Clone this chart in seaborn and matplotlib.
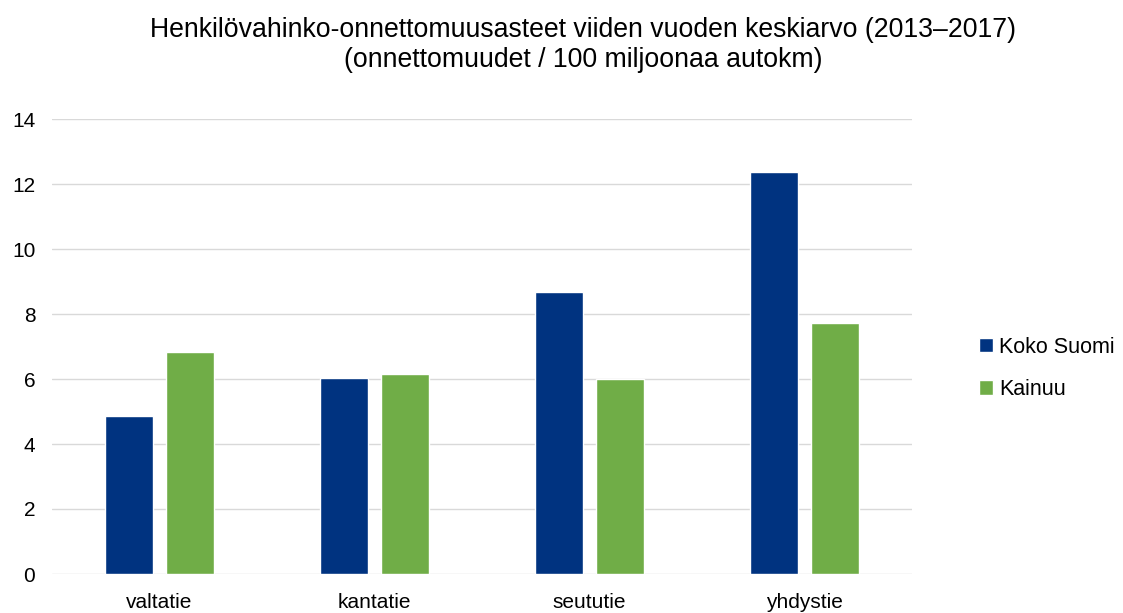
import matplotlib
matplotlib.use("Agg")
import matplotlib.pyplot as plt
import seaborn as sns
import pandas as pd

categories = ["valtatie", "kantatie", "seututie", "yhdystie"]
koko_suomi = [4.86, 6.03, 8.67, 12.38]
kainuu = [6.83, 6.14, 6.00, 7.71]
series_names = ["Koko Suomi", "Kainuu"]
colors = ["#003380", "#70AD47"]

df = pd.DataFrame({
    "tie": categories * 2,
    "arvo": koko_suomi + kainuu,
    "sarja": [series_names[0]] * 4 + [series_names[1]] * 4,
})

sns.set_theme(style="white")
plt.rcParams["font.family"] = ["Liberation Sans", "DejaVu Sans"]

fig = plt.figure(figsize=(11.23, 6.13), dpi=100)
ax = fig.add_axes([52 / 1123, 1 - 574 / 613, (912 - 52) / 1123, (574 - 119) / 613])

sns.barplot(data=df, x="tie", y="arvo", hue="sarja", palette=colors,
            width=0.567, gap=0.213, ax=ax, saturation=1, errorbar=None)

ax.set_ylim(0, 14)
ax.set_xlim(-0.5, 3.5)
ax.set_yticks(range(0, 15, 2))
ax.yaxis.grid(True, color="#d9d9d9", linewidth=1)
ax.set_axisbelow(True)
for s in ax.spines.values():
    s.set_visible(False)
ax.set_xlabel("")
ax.set_ylabel("")
ax.tick_params(axis="both", length=0, labelsize=15, colors="#000000")
ax.tick_params(axis="y", pad=12)
ax.tick_params(axis="x", pad=14)

leg = ax.legend(loc="center left", bbox_to_anchor=(1.055, 0.452), frameon=False,
                fontsize=15.5, handlelength=0.65, handleheight=0.65, handletextpad=0.3,
                labelspacing=1.0)
for t in leg.get_texts():
    t.set_color("#000000")

fig.text(583 / 1123, 1 - 45 / 613,
         "Henkilövahinko-onnettomuusasteet viiden vuoden keskiarvo (2013–2017)\n(onnettomuudet / 100 miljoonaa autokm)",
         ha="center", va="center", fontsize=19.2, linespacing=1.2, color="#000000")

fig.savefig("out.png", dpi=100)
